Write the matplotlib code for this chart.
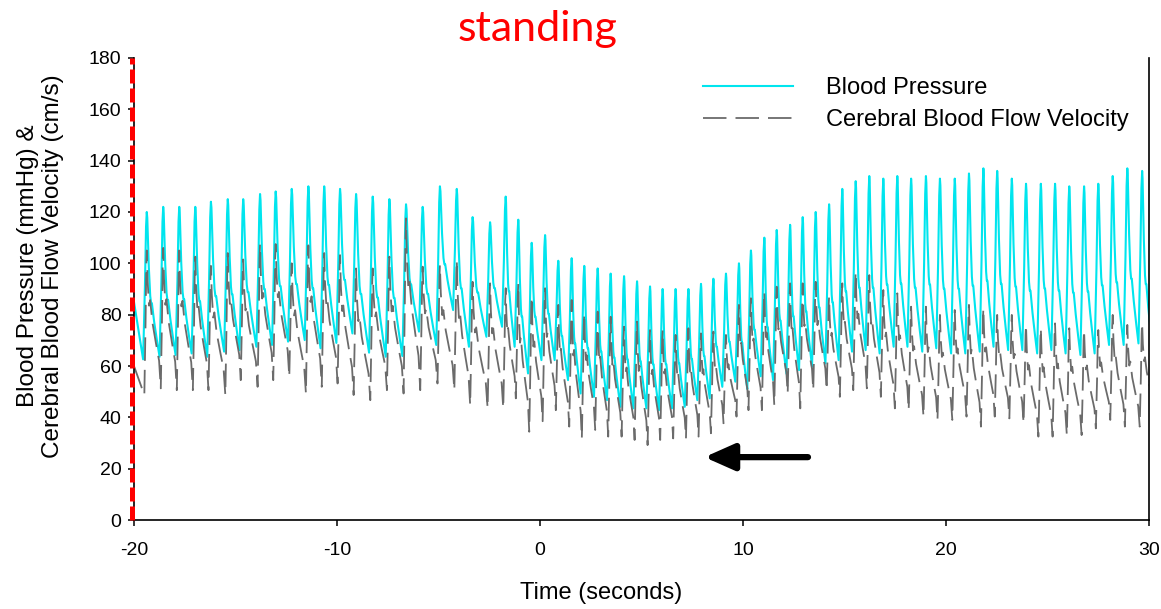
"""
Blood pressure and cerebral blood flow velocity around standing up
"""

import matplotlib
matplotlib.use('Agg')
import matplotlib.pyplot as plt
from matplotlib.lines import Line2D

plt.rcParams['font.family'] = ['Liberation Sans', 'DejaVu Sans']
plt.rcParams['axes.unicode_minus'] = False

# Systolic peak time of each heart beat (seconds)
beat_t = [-19.37, -18.56, -17.77, -16.98, -16.21, -15.38, -14.62, -13.79,
          -13.02, -12.23, -11.41, -10.63,
          -9.85, -9.06, -8.24, -7.42, -6.60, -5.78, -4.93, -4.10, -3.32,
          -2.46, -1.69, -1.07, -0.41,
          0.25, 0.90, 1.56, 2.18, 2.84, 3.48, 4.14, 4.78, 5.42, 6.04, 6.68,
          7.31, 7.93, 8.54, 9.16, 9.80,
          10.39, 11.05, 11.66, 12.32, 12.94, 13.58, 14.24, 14.89, 15.55,
          16.22, 16.91, 17.60, 18.28, 19.01, 19.70,
          20.43, 21.13, 21.84, 22.52, 23.24, 23.94, 24.67, 25.37, 26.07,
          26.80, 27.50, 28.21, 28.93, 29.66]

# Blood pressure (mmHg): peak of each beat and trough just before it
bp_sys = [120, 122, 122, 122, 124, 125, 125, 127, 128, 129, 130, 130,
          129, 127, 126, 125, 123, 122, 130, 129, 118, 116, 126, 117, 108,
          111, 101, 102, 99, 98, 96, 95, 93, 91, 90, 90, 90, 92, 94, 96, 100,
          105, 110, 113, 115, 118, 120, 123, 129, 132, 134, 133, 134, 133,
          134, 133,
          133, 135, 137, 136, 133, 131, 131, 131, 130, 130, 131, 134, 137,
          136]
bp_dia = [62.6, 63.6, 64.3, 64.9, 63.6, 65.6, 66.2, 67.5, 68.2, 69.5, 70.1,
          66.9,
          69, 72.7, 65.2, 63.6, 63.9, 73.4, 68.2, 81.8, 67.5, 71.4, 75.3,
          67.5, 57.1,
          62.3, 62.3, 54.5, 49.3, 48.0, 46.7, 44.1, 43.5, 43.5, 42.8, 43.5,
          44.1, 46.7, 47.4, 51.9, 53.9,
          51, 56, 54.5, 57, 58.4, 59.7, 61, 62.3, 65.6, 66.2, 64.9, 67.5,
          67.5, 65.6, 66.9,
          64.9, 64.9, 65.6, 67.5, 66.2, 66.2, 64.9, 66.2, 64.9, 64.3, 64.9,
          68.2, 68.2, 68.8]

# Cerebral blood flow velocity (cm/s): peak and trough of each beat
cbfv_sys = [105, 106, 105, 102.6, 99, 104, 101.5, 107.5, 107.5, 100, 107,
            104,
            103.2, 98, 98, 102.6, 117.5, 98.7, 99.3, 101.3, 92.8, 92.2, 90.3,
            92.2, 87,
            90.3, 83.8, 85.7, 80.5, 81.2, 79.2, 75.3, 77.3, 74, 74, 72.1,
            74.7, 72.7, 73.4, 72.1, 83.8,
            86.4, 88.9, 90.9, 92.2, 92.2, 92.8, 87, 92.2, 96.7, 95.4, 89.6,
            88.3, 83.1, 83.1, 79.9,
            81.8, 83.8, 82.5, 79.9, 79.9, 76, 74.7, 76.6, 74.7, 74, 74, 79.9,
            76, 76.6]
cbfv_dia = [48.7, 51.3, 50.6, 50.6, 50.6, 48.7, 54.5, 51.9, 54.5, 55.8, 49.3,
            51.9,
            53.2, 48.7, 46.7, 50.6, 49.3, 50.6, 53.2, 50.6, 44.8, 43.5, 43.5,
            47.4, 34.4,
            38.5, 42.8, 36.4, 31.8, 35.1, 32.5, 32.5, 31.2, 29.2, 31.2, 31.8,
            31.8, 32.5, 33.8, 37.7, 40.3,
            42.8, 42.8, 44.8, 49.3, 43.5, 50.6, 50.6, 48, 50.6, 51.3, 48,
            43.5, 42.8, 40.3, 39,
            39, 40.3, 36.4, 40.3, 39.6, 37.7, 32.5, 32.5, 33.1, 33.1, 35.7,
            39, 36.4, 36.4]

# Values at the left edge and trough after the last beat
bp_start, bp_after = 85, 66
cbfv_start, cbfv_after = 60, 40


def build_wave(peaks, troughs, start_val, after_val, rise, shape_x, shape_y):
    # Join the beats: upstroke from trough to peak, then a decay shape
    # down to the trough of the following beat
    t_out = [-20.0]
    v_out = [start_val]
    n = len(beat_t)
    for i in range(n):
        amp = peaks[i] - troughs[i]
        t_out += [beat_t[i] - rise, beat_t[i] - rise * 0.5,
                  beat_t[i] - rise * 0.2, beat_t[i]]
        v_out += [troughs[i], troughs[i] + 0.5 * amp,
                  troughs[i] + 0.9 * amp, peaks[i]]
        if i + 1 < n:
            nxt_on = beat_t[i + 1] - rise
            nxt_tr = troughs[i + 1]
        else:
            nxt_on = beat_t[i] + 0.7 - rise
            nxt_tr = after_val
        span = nxt_on - beat_t[i]
        for fx, fy in zip(shape_x[1:-1], shape_y[1:-1]):
            t_out.append(beat_t[i] + fx * span)
            v_out.append(nxt_tr + fy * (peaks[i] - nxt_tr))
    t_out.append(nxt_on)
    v_out.append(nxt_tr)
    return t_out, v_out


bp_t, bp_v = build_wave(bp_sys, bp_dia, bp_start, bp_after, 0.18,
                        [0, 0.04, 0.09, 0.16, 0.27, 0.34, 0.40, 0.58, 0.8, 1],
                        [1, 0.96, 0.82, 0.62, 0.42, 0.37, 0.37, 0.24, 0.11,
                         0])
cb_t, cb_v = build_wave(cbfv_sys, cbfv_dia, cbfv_start, cbfv_after, 0.12,
                        [0, 0.06, 0.16, 0.24, 0.40, 0.65, 0.88, 1.0],
                        [1, 0.78, 0.6, 0.64, 0.48, 0.33, 0.2, 0])

bp_color = '#00e5ee'
cb_color = '#6b6b6b'
cb_dash = (13, 5)

fig = plt.figure(figsize=(11.61, 6.09), dpi=100)
ax = fig.add_axes([0.1154, 0.1461, 0.8743, 0.7587])

ax.plot(bp_t, bp_v, color=bp_color, lw=1.5)
ax.plot(cb_t, cb_v, color=cb_color, lw=1.3, dashes=cb_dash)

ax.set_xlim(-20, 30)
ax.set_ylim(0, 180)
ax.set_xticks(range(-20, 31, 10))
ax.set_yticks(range(0, 181, 20))

for side in ['left', 'bottom', 'right']:
    ax.spines[side].set_linewidth(1.2)
ax.spines['top'].set_visible(False)
ax.tick_params(axis='both', direction='out', length=4, width=1.1,
               labelsize=14)
ax.tick_params(axis='y', pad=5)
ax.tick_params(axis='x', pad=12)

# Red dashed marker on the left axis
ax.axvline(-20.1, color='#ff0000', lw=3.6, dashes=(2.8, 1.0), clip_on=False,
           zorder=5)

ax.set_xlabel('Time (seconds)', fontsize=17)
ax.xaxis.set_label_coords(0.46, -0.135)
ax.set_ylabel('Blood Pressure (mmHg) &\nCerebral Blood Flow Velocity (cm/s)',
              fontsize=17.5)
ax.yaxis.set_label_coords(-0.069, 0.55)

# Arrow pointing to the low point
ax.annotate('', xy=(8.1, 24.5), xytext=(13.2, 24.5),
            arrowprops=dict(arrowstyle='-|>,head_length=0.9,head_width=0.4',
                            lw=4.5, color='black', shrinkA=0, shrinkB=0,
                            mutation_scale=20))

handles = [Line2D([], [], color=bp_color, lw=1.5),
           Line2D([], [], color=cb_color, lw=1.3, dashes=cb_dash)]
fig.legend(handles, ['Blood Pressure', 'Cerebral Blood Flow Velocity'],
           loc='upper left', bbox_to_anchor=(703 / 1161, 1 - 77 / 609),
           frameon=False, fontsize=17, handlelength=3.8, handletextpad=1.4,
           labelspacing=0.42, borderpad=0, borderaxespad=0)

fig.text(538 / 1161, 1 - 29 / 609, 'standing', color='#ff0000', fontsize=31,
         ha='center', va='center', family=['Lato', 'DejaVu Sans'])

fig.savefig('out.png', dpi=100)
